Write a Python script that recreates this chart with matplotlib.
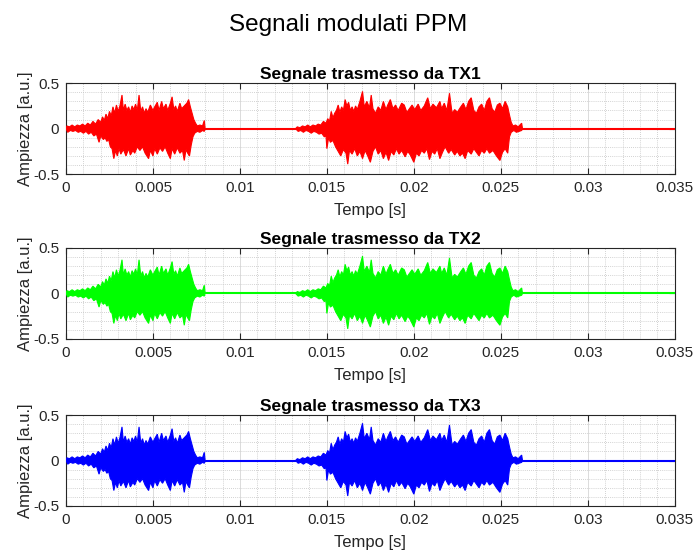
import numpy as np
import matplotlib
matplotlib.use('Agg')
import matplotlib.pyplot as plt
from matplotlib.ticker import MultipleLocator, FixedLocator, FixedFormatter

plt.rcParams['font.family'] = ['Liberation Sans', 'DejaVu Sans']

### values (time in ms, amplitude in a.u.)
### the three transmitted signals share the same envelope, only the colour changes

burst1_up_t = [0.0, 0.05, 0.2, 0.35, 0.5, 0.65, 0.8, 0.95, 1.1, 1.25, 1.4, 1.55, 1.7, 1.85, 2.0,
               2.1, 2.2, 2.3, 2.4, 2.5, 2.6, 2.7, 2.8, 2.9, 3.0, 3.1, 3.22, 3.3, 3.4, 3.5, 3.6,
               3.7, 3.8, 3.9, 4.0, 4.1, 4.2, 4.3, 4.4, 4.5, 4.6, 4.7, 4.85, 5.0, 5.1, 5.25, 5.35,
               5.5, 5.6, 5.75, 5.85, 6.0, 6.1, 6.2, 6.3, 6.4, 6.55, 6.65, 6.8, 6.95, 7.05, 7.15,
               7.25, 7.35, 7.45, 7.55, 7.7, 7.85, 7.95, 8.0]
burst1_up_v = [0.0, 0.03, 0.02, 0.04, 0.02, 0.04, 0.03, 0.05, 0.03, 0.06, 0.04, 0.08, 0.05, 0.1, 0.07,
               0.13, 0.09, 0.16, 0.11, 0.19, 0.14, 0.24, 0.17, 0.26, 0.19, 0.25, 0.37, 0.2, 0.27, 0.2, 0.24,
               0.18, 0.25, 0.21, 0.27, 0.2, 0.37, 0.19, 0.24, 0.17, 0.22, 0.18, 0.26, 0.2, 0.24, 0.29, 0.2,
               0.3, 0.22, 0.27, 0.2, 0.28, 0.35, 0.21, 0.25, 0.19, 0.28, 0.22, 0.25, 0.28, 0.32, 0.24,
               0.17, 0.1, 0.06, 0.03, 0.04, 0.03, 0.09, 0.0]

burst1_lo_t = [0.0, 0.1, 0.25, 0.4, 0.55, 0.7, 0.85, 1.0, 1.15, 1.3, 1.45, 1.6, 1.75, 1.9, 2.0,
               2.15, 2.25, 2.35, 2.45, 2.55, 2.65, 2.75, 2.85, 2.95, 3.05, 3.15, 3.3, 3.45, 3.6,
               3.7, 3.85, 3.95, 4.1, 4.25, 4.4, 4.55, 4.75, 4.85, 5.0, 5.1, 5.25, 5.4, 5.55, 5.7,
               5.85, 6.0, 6.1, 6.25, 6.4, 6.55, 6.7, 6.8, 6.9, 7.0, 7.1, 7.2, 7.3, 7.4, 7.55, 7.7,
               7.85, 7.95, 8.0]
burst1_lo_v = [0.0, -0.04, -0.02, -0.03, -0.02, -0.04, -0.03, -0.05, -0.03, -0.06, -0.04, -0.08, -0.06, -0.15, -0.08,
               -0.12, -0.1, -0.14, -0.12, -0.2, -0.22, -0.33, -0.24, -0.3, -0.22, -0.28, -0.23, -0.3, -0.22,
               -0.29, -0.24, -0.27, -0.2, -0.24, -0.2, -0.27, -0.33, -0.24, -0.3, -0.22, -0.28, -0.21, -0.25, -0.2,
               -0.27, -0.33, -0.22, -0.28, -0.21, -0.27, -0.24, -0.35, -0.23, -0.27, -0.3, -0.18, -0.09, -0.05, -0.03, -0.04,
               -0.02, -0.03, 0.0]

burst2_up_t = [13.2, 13.3, 13.45, 13.6, 13.75, 13.9, 14.05, 14.2, 14.35, 14.5, 14.65, 14.8, 14.95, 15.05,
               15.15, 15.25, 15.35, 15.45, 15.55, 15.65, 15.75, 15.85, 15.95, 16.05, 16.15, 16.25, 16.35,
               16.45, 16.55, 16.65, 16.75, 16.9, 17.05, 17.15, 17.3, 17.45, 17.55, 17.65, 17.8, 17.95,
               18.1, 18.25, 18.4, 18.5, 18.65, 18.8, 18.95, 19.1, 19.3, 19.45, 19.6, 19.75, 19.9, 20.05,
               20.25, 20.4, 20.6, 20.8, 20.95, 21.1, 21.3, 21.5, 21.6, 21.75, 21.9, 22.05, 22.2, 22.35,
               22.5, 22.7, 22.85, 23.0, 23.15, 23.3, 23.45, 23.6, 23.75, 23.9, 24.05, 24.2, 24.35, 24.5,
               24.65, 24.8, 24.95, 25.1, 25.25, 25.4, 25.5, 25.6, 25.7, 25.85, 26.0, 26.1, 26.2, 26.25]
burst2_up_v = [0.0, 0.02, 0.01, 0.03, 0.02, 0.04, 0.02, 0.04, 0.03, 0.05, 0.04, 0.08, 0.06, 0.11,
               0.08, 0.19, 0.12, 0.17, 0.2, 0.26, 0.18, 0.24, 0.2, 0.32, 0.25, 0.29, 0.2,
               0.24, 0.19, 0.25, 0.21, 0.3, 0.41, 0.24, 0.3, 0.23, 0.37, 0.22, 0.17, 0.24,
               0.2, 0.3, 0.21, 0.26, 0.32, 0.22, 0.26, 0.2, 0.28, 0.26, 0.18, 0.22, 0.26, 0.21,
               0.27, 0.2, 0.25, 0.34, 0.22, 0.27, 0.23, 0.3, 0.22, 0.28, 0.2, 0.39, 0.17, 0.21,
               0.18, 0.24, 0.28, 0.21, 0.3, 0.34, 0.2, 0.17, 0.24, 0.27, 0.2, 0.3, 0.34, 0.22,
               0.18, 0.26, 0.28, 0.22, 0.3, 0.24, 0.15, 0.07, 0.03, 0.04, 0.02, 0.04, 0.06, 0.0]

burst2_lo_t = [13.2, 13.35, 13.5, 13.65, 13.8, 13.95, 14.1, 14.25, 14.4, 14.55, 14.7, 14.85, 14.95, 15.0,
               15.1, 15.2, 15.35, 15.5, 15.65, 15.8, 15.95, 16.1, 16.2, 16.3, 16.45, 16.6, 16.75, 16.9,
               17.05, 17.2, 17.35, 17.5, 17.65, 17.8, 17.95, 18.1, 18.25, 18.4, 18.55, 18.7, 18.85, 19.0,
               19.15, 19.3, 19.5, 19.65, 19.8, 20.0, 20.15, 20.3, 20.45, 20.6, 20.75, 20.9, 21.05, 21.2,
               21.35, 21.5, 21.65, 21.8, 22.0, 22.15, 22.35, 22.5, 22.65, 22.8, 22.95, 23.1, 23.3, 23.45,
               23.6, 23.75, 23.9, 24.05, 24.2, 24.35, 24.55, 24.75, 24.95, 25.1, 25.25, 25.4, 25.5, 25.6,
               25.75, 25.9, 26.05, 26.2, 26.25]
burst2_lo_v = [0.0, -0.03, -0.02, -0.04, -0.02, -0.03, -0.05, -0.03, -0.04, -0.06, -0.05, -0.09, -0.08, -0.22,
               -0.1, -0.15, -0.13, -0.2, -0.25, -0.3, -0.23, -0.27, -0.39, -0.24, -0.28, -0.22, -0.3, -0.25,
               -0.33, -0.24, -0.3, -0.37, -0.25, -0.2, -0.28, -0.24, -0.33, -0.26, -0.35, -0.25, -0.29, -0.22,
               -0.28, -0.24, -0.31, -0.25, -0.29, -0.37, -0.27, -0.3, -0.24, -0.27, -0.22, -0.34, -0.25, -0.28,
               -0.22, -0.33, -0.26, -0.2, -0.27, -0.23, -0.29, -0.25, -0.3, -0.27, -0.33, -0.24, -0.28, -0.22,
               -0.26, -0.3, -0.24, -0.27, -0.22, -0.27, -0.24, -0.3, -0.35, -0.26, -0.22, -0.27, -0.09, -0.04,
               -0.02, -0.04, -0.03, -0.02, 0.0]

t_end = 35.0  # ms, end of the record (signal is zero after the second burst)

channels = ['TX1', 'TX2', 'TX3']
colors = ['#ff0000', '#00ff00', '#0000ff']

xtick_vals = [0, 0.005, 0.01, 0.015, 0.02, 0.025, 0.03, 0.035]
xtick_labels = ['0', '0.005', '0.01', '0.015', '0.02', '0.025', '0.03', '0.035']
ytick_vals = [-0.5, 0, 0.5]
ytick_labels = ['-0.5', '0', '0.5']


def burst_polygon(up_t, up_v, lo_t, lo_v):
    '''
    closed outline of one burst: upper envelope forward, lower envelope back
    '''
    x = list(np.array(up_t) / 1000) + list(np.array(lo_t[::-1]) / 1000)
    y = list(up_v) + list(lo_v[::-1])
    return x, y


fig = plt.figure(figsize=(6.97, 5.51), dpi=100)
fig.suptitle('Segnali modulati PPM', fontsize=17.5, y=0.974)

axes_bottoms = [0.684, 0.385, 0.0817]
for i, name in enumerate(channels):
    ax = fig.add_axes([0.0947, axes_bottoms[i], 0.8733, 0.165])
    c = colors[i]

    ax.plot([0, t_end / 1000], [0, 0], color=c, lw=1.5, zorder=3)
    for up_t, up_v, lo_t, lo_v in [(burst1_up_t, burst1_up_v, burst1_lo_t, burst1_lo_v),
                                   (burst2_up_t, burst2_up_v, burst2_lo_t, burst2_lo_v)]:
        px, py = burst_polygon(up_t, up_v, lo_t, lo_v)
        ax.fill(px, py, color=c, lw=0.8, zorder=3)

    ax.set_xlim(0, 0.035)
    ax.set_ylim(-0.5, 0.5)
    ax.xaxis.set_major_locator(FixedLocator(xtick_vals))
    ax.xaxis.set_major_formatter(FixedFormatter(xtick_labels))
    ax.yaxis.set_major_locator(FixedLocator(ytick_vals))
    ax.yaxis.set_major_formatter(FixedFormatter(ytick_labels))
    ax.xaxis.set_minor_locator(MultipleLocator(0.001))
    ax.yaxis.set_minor_locator(MultipleLocator(0.1))

    ax.grid(which='major', color='#d6d6d6', lw=0.6, ls='-')
    ax.grid(which='minor', color='#c4c4c4', lw=0.6, ls=(0, (1, 1.5)))
    ax.set_axisbelow(True)
    ax.tick_params(which='major', direction='in', length=4, width=0.8, colors='#262626',
                   labelsize=11, labelcolor='#262626', top=True, right=True, pad=5)
    ax.tick_params(which='minor', length=0)
    for s in ax.spines.values():
        s.set_color('#262626')
        s.set_linewidth(0.8)

    ax.set_title('Segnale trasmesso da ' + name, fontsize=12.5, fontweight='bold', pad=3)
    ax.set_xlabel('Tempo [s]', fontsize=12, color='#262626', labelpad=6)
    ax.set_ylabel('Ampiezza [a.u.]', fontsize=12, color='#262626', labelpad=0)

fig.savefig('out.png', dpi=100)
